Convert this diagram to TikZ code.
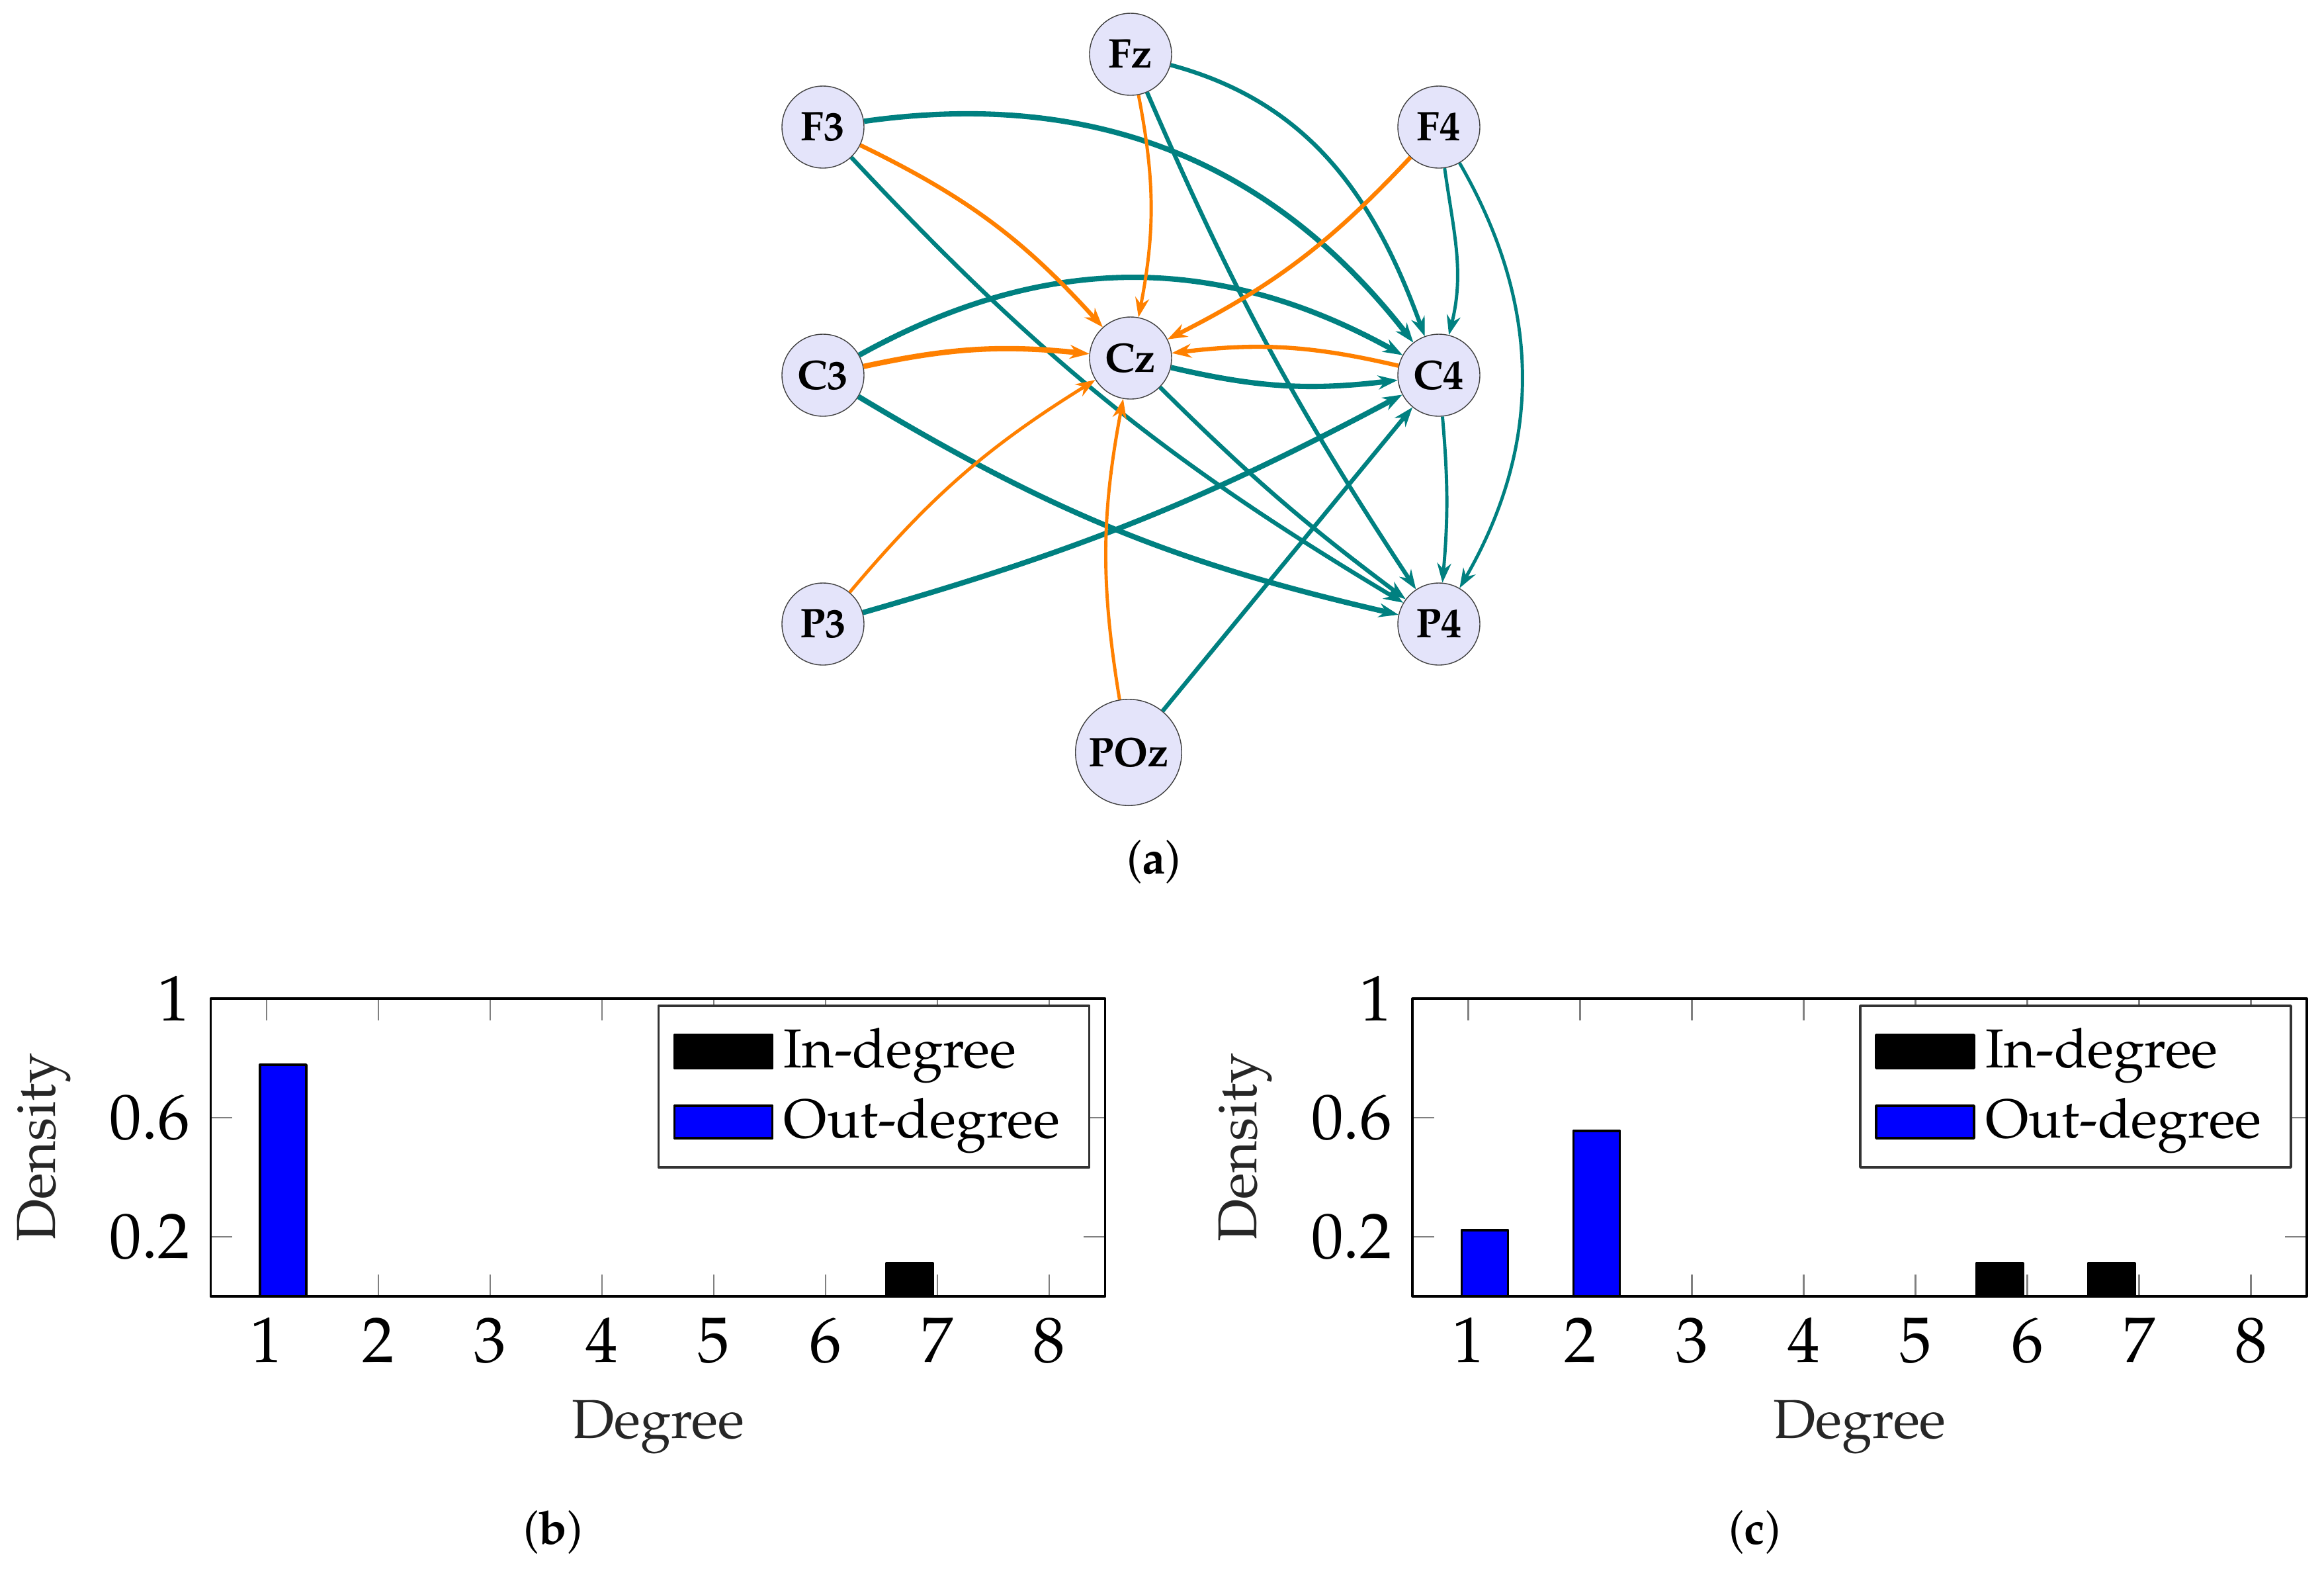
\documentclass[tikz,border=0pt]{standalone}
\usepackage[T1]{fontenc}
\usepackage{mathpazo}
\usetikzlibrary{arrows.meta}
\definecolor{lav}{RGB}{228,228,250}
\newcommand{\tkfont}{\fontsize{13.8}{16}\selectfont}
\newcommand{\lbfont}{\fontsize{11.8}{14}\selectfont}
\newcommand{\cpfont}{\fontsize{10}{12}\selectfont}
\tikzset{
  elec/.style={circle, draw=black!75, line width=0.2pt, fill=lav, inner sep=1.7pt, minimum size=0.62cm, font=\fontsize{8.9}{10}\selectfont\bfseries},
  tl/.style={draw=teal, -{Stealth[length=4.2pt,width=3pt]}},
  og/.style={draw=orange, -{Stealth[length=4.2pt,width=3pt]}},
  w1/.style={line width=1.15pt},
  w2/.style={line width=0.9pt},
  w3/.style={line width=0.7pt},
  tickc/.style={draw=gray, line width=0.3pt},
  axisc/.style={draw=black, line width=0.45pt},
  outbar/.style={draw=black, fill=blue, line width=0.5pt},
  inbar/.style={draw=black, fill=black, line width=0.5pt},
  lab/.style={font=\lbfont, text=black!85}
}
% degree histogram: #1 shift, #2 out-degree bars, #3 in-degree bars, #4 letter
\newcommand{\degplot}[4]{%
\begin{scope}[shift={(#1,-9.795)}, x=0.845cm, y=2.25cm]
  \foreach \k in {1,...,8} {
    \draw[tickc] (\k,0) -- ++(0,0.165cm);
    \draw[tickc] (\k,1) -- ++(0,-0.165cm);
  }
  \foreach \v in {0.2,0.6} {
    \draw[tickc] (0.5,\v) -- ++(0.165cm,0);
    \draw[tickc] (8.5,\v) -- ++(-0.165cm,0);
  }
  \foreach \k/\h in {#2} \draw[outbar] (\k-0.06,0) rectangle (\k+0.355,\h);
  \foreach \k/\h in {#3} \draw[inbar] (\k-0.455,0) rectangle (\k-0.04,\h);
  \draw[axisc] (0.5,0) rectangle (8.5,1);
  \foreach \k in {1,...,8}
    \node[anchor=base, font=\tkfont] (#4x\k) at ([yshift=-0.495cm]\k,0) {\k};
  \foreach \v [count=\i] in {0.2,0.6,1}
    \node[anchor=east, inner sep=0, font=\tkfont] (#4y\i) at ([xshift=-0.15cm]0.5,\v) {\v};
  \node[lab, anchor=base] (#4xlab) at ([yshift=-1.07cm]4.5,0) {Degree};
  \node[lab, anchor=base, rotate=90] (#4ylab) at ([xshift=-0.755cm]0,0.5) {Density};
  \node[font=\cpfont] (#4cap) at ([xshift=3.01cm,yshift=-1.78cm]0,0) {(\textbf{#4})};
  % legend
  \begin{scope}[shift={(8.5,1)}, x=1cm, y=1cm]
    \draw[draw=black!80, line width=0.5pt, fill=white] (-3.375,-0.055) rectangle (-0.12,-1.275);
    \draw[inbar] (-3.255,-0.275) rectangle (-2.515,-0.525);
    \draw[outbar] (-3.255,-0.81) rectangle (-2.515,-1.055);
    \node[anchor=base west, inner sep=0, font=\lbfont] (#4in) at (-2.435,-0.52) {In-degree};
    \node[anchor=base west, inner sep=0, font=\lbfont] (#4out) at (-2.435,-1.05) {Out-degree};
  \end{scope}
\end{scope}}

\begin{document}
\begin{tikzpicture}[line join=round]
\useasboundingbox (0,0) rectangle (17.565,-11.855);
        \def\xa{6.22} \def\xb{8.545} \def\xc{10.875}
\node[elec] (Fz) at (\xb,-0.41) {Fz};
\node[elec] (F3) at (\xa,-0.96) {F3};
\node[elec] (F4) at (\xc,-0.96) {F4};
\node[elec] (C3) at (\xa,-2.835) {C3};
\node[elec] (Cz) at (\xb,-2.705) {Cz};
\node[elec] (C4) at (\xc,-2.835) {C4};
\node[elec] (P3) at (\xa,-4.715) {P3};
\node[elec] (P4) at (\xc,-4.715) {P4};
\node[elec] (POz) at (8.53,-5.685) {POz};
% teal connections
\draw[tl,w1] (F3) to[out=8,in=128] (C4);
\draw[tl,w2] (F3) to[bend right=8] (P4);
\draw[tl,w2] (Fz) to[out=-15,in=110] (C4);
\draw[tl,w2] (Fz) to[bend right=5] (P4);
\draw[tl,w3] (F4) to[out=-82,in=76] (C4);
\draw[tl,w3] (F4) to[bend left=30] (P4);
\draw[tl,w1] (C3) to[bend left=29] (C4);
\draw[tl,w1] (C3) to[bend right=9] (P4);
\draw[tl,w1] (Cz) to[bend right=10] (C4);
\draw[tl,w2] (Cz) to[bend right=4] (P4);
\draw[tl,w1] (P3) to[bend right=6] (C4);
\draw[tl,w2] (POz) -- (C4);
\draw[tl,w3] (C4) to[bend left=5] (P4);
% orange connections
\draw[og,w2] (F3) to[bend left=11] (Cz);
\draw[og,w3] (Fz) to[bend left=11] (Cz);
\draw[og,w2] (F4) to[bend left=10] (Cz);
\draw[og,w1] (C3) to[bend left=9] (Cz);
\draw[og,w2] (C4) to[bend right=10] (Cz);
\draw[og,w3] (P3) to[bend left=9] (Cz);
\draw[og,w3] (POz) to[bend left=10] (Cz);
\node[font=\cpfont] (acap) at (8.72,-6.51) {(\textbf{a})};
\degplot{1.17}{1/0.7778}{7/0.1111}{b}
\degplot{10.2525}{1/0.2222,2/0.5556}{6/0.1111,7/0.1111}{c}
    \end{tikzpicture}
\end{document}
